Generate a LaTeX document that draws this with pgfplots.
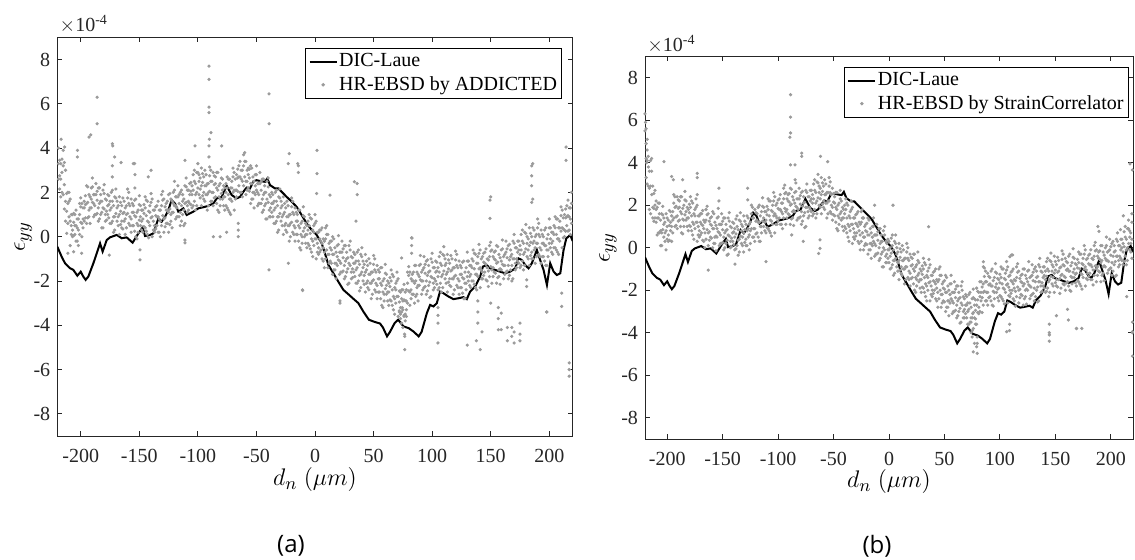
\documentclass[border=0pt]{standalone}
\usepackage{fontspec}
\setmainfont{Liberation Serif}
\newfontfamily\capfont{Open Sans}
\usepackage{pgfplots}
\usepackage{pgfplotstable}
\pgfplotsset{compat=1.18}

\definecolor{ebsd}{RGB}{155,155,155}
\definecolor{axgray}{RGB}{38,38,38}

% HR-EBSD clouds, values in 1e-4: a = ADDICTED, b = StrainCorrelator
\pgfplotstableread{
x a1 a2 a3 b1 b2 b3
-219 4.0 2.6 3.3 4.2 5.6 3.3
-217 1.8 3.3 2.6 3.8 2.9 4.3
-215 3.9 1.9 3.2 1.6 4.1 2.9
-213 1.6 3.0 0.7 2.9 1.4 1.9
-211 1.5 0.6 2.0 2.7 1.4 2.0
-209 -0.4 1.7 0.7 0.6 1.9 1.4
-207 1.0 0.0 0.3 2.1 0.7 1.6
-205 1.0 0.1 0.5 0.7 1.6 0.1
-203 -0.2 0.8 0.4 1.1 0.5 1.4
-201 1.5 0.1 1.0 -0.1 1.6 0.8
-199 0.6 1.5 0.0 1.3 0.3 0.6
-197 1.3 0.7 1.6 1.7 0.8 1.2
-195 0.6 2.3 1.5 0.7 1.7 1.3
-193 1.9 0.9 1.2 2.4 1.0 1.9
-191 2.2 1.3 1.7 1.5 2.4 0.9
-189 0.9 1.9 1.5 1.9 1.3 2.2
-187 2.4 1.0 1.9 0.7 2.4 1.6
-185 1.3 2.2 0.7 2.0 1.0 1.3
-183 1.6 1.0 1.9 2.2 1.3 1.7
-181 0.4 2.1 1.3 0.8 1.8 1.4
-179 1.7 0.7 1.0 2.4 1.0 1.9
-177 1.9 1.0 1.4 1.2 2.1 0.6
-175 0.6 1.6 1.2 1.5 0.9 1.8
-173 2.1 0.7 1.6 0.3 2.0 1.2
-171 0.9 1.8 0.3 1.5 0.5 0.8
-169 1.3 0.7 1.6 1.6 0.7 1.1
-167 0.1 1.8 1.0 0.3 1.3 0.9
-165 1.4 0.4 0.7 1.8 0.4 1.3
-163 1.6 0.7 1.1 0.7 1.6 0.1
-161 0.4 1.4 1.0 1.1 0.5 1.4
-159 2.0 0.6 1.5 0.0 1.7 0.9
-157 0.8 1.7 0.2 1.2 0.2 0.5
-155 1.1 0.5 1.4 1.4 0.5 0.9
-153 0.0 1.7 0.9 0.1 1.1 0.7
-151 1.2 0.2 0.5 1.6 0.2 1.1
-149 1.4 0.5 0.9 0.5 1.4 -0.1
-147 0.2 1.2 0.8 0.8 0.2 1.1
-145 1.8 0.4 1.3 -0.3 1.4 0.6
-143 0.7 1.6 0.1 1.0 0.0 0.3
-141 1.1 0.5 1.4 1.2 0.3 0.7
-139 0.0 1.7 0.9 -0.1 0.9 0.5
-137 1.2 0.2 0.5 1.5 0.1 1.0
-135 1.4 0.5 0.9 0.4 1.3 -0.2
-133 0.2 1.2 0.8 0.8 0.2 1.1
-131 1.9 0.5 1.4 -0.2 1.5 0.7
-129 0.8 1.7 0.2 1.1 0.1 0.4
-127 1.2 0.6 1.5 1.4 0.5 0.9
-125 0.2 1.9 1.1 0.2 1.2 0.8
-123 1.7 0.7 1.0 1.9 0.5 1.4
-121 2.0 1.1 1.5 0.9 1.8 0.3
-119 0.8 1.8 1.4 1.3 0.7 1.6
-117 2.3 0.9 1.8 0.3 2.0 1.2
-115 1.1 2.0 0.5 1.7 0.7 1.0
-113 1.6 1.0 1.9 1.9 1.0 1.4
-111 0.6 2.3 1.5 0.7 1.7 1.3
-109 2.1 1.1 1.4 2.3 0.9 1.8
-107 2.4 1.5 1.9 1.3 2.2 0.7
-105 1.3 2.3 1.9 1.7 1.1 2.0
-103 3.0 1.6 2.5 0.7 2.4 1.6
-101 2.0 2.9 1.4 2.1 1.1 1.4
-99 2.5 1.9 2.8 2.3 1.4 1.8
-97 1.4 3.1 2.3 1.1 2.1 1.7
-95 2.7 1.7 2.0 2.8 1.4 2.3
-93 2.8 1.9 2.3 1.7 2.6 1.1
-91 1.4 2.4 2.0 2.2 1.6 2.5
-89 3.0 1.6 2.5 1.1 2.8 2.0
-87 2.0 2.9 1.4 2.4 1.4 1.7
-85 2.4 1.8 2.7 2.6 1.7 2.1
-83 1.2 2.9 2.1 1.3 2.3 1.9
-81 2.4 1.4 1.7 2.8 1.4 2.3
-79 2.6 1.7 2.1 1.7 2.6 1.1
-77 1.2 2.2 1.8 2.1 1.5 2.4
-75 2.7 1.3 2.2 1.0 2.7 1.9
-73 1.7 2.6 1.1 2.4 1.4 1.7
-71 2.2 1.6 2.5 2.7 1.8 2.2
-69 1.2 2.9 2.1 1.5 2.5 2.1
-67 2.8 1.8 2.1 3.2 1.8 2.7
-65 3.2 2.3 2.7 2.2 3.1 1.6
-63 2.0 3.0 2.6 2.6 2.0 2.9
-61 3.7 2.3 3.2 1.6 3.3 2.5
-59 2.5 3.4 1.9 2.9 1.9 2.2
-57 2.8 2.2 3.1 3.0 2.1 2.5
-55 1.5 3.2 2.4 1.6 2.6 2.2
-53 2.7 1.7 2.0 3.1 1.7 2.6
-51 2.8 1.9 2.3 1.9 2.8 1.3
-49 1.4 2.4 2.0 2.1 1.5 2.4
-47 2.9 1.5 2.4 0.9 2.6 1.8
-45 1.7 2.6 1.1 2.1 1.1 1.4
-43 2.0 1.4 2.3 2.2 1.3 1.7
-41 0.8 2.5 1.7 0.8 1.8 1.4
-39 1.9 0.9 1.2 2.3 0.9 1.8
-37 2.0 1.1 1.5 1.1 2.0 0.5
-35 0.6 1.6 1.2 1.4 0.8 1.7
-33 2.1 0.7 1.6 0.2 1.9 1.1
-31 0.9 1.8 0.3 1.4 0.4 0.7
-29 1.3 0.7 1.6 1.6 0.7 1.1
-27 0.1 1.8 1.0 0.2 1.2 0.8
-25 1.3 0.3 0.6 1.7 0.3 1.2
-23 1.4 0.5 0.9 0.5 1.4 -0.1
-21 0.0 1.0 0.6 0.8 0.2 1.1
-19 1.6 0.2 1.1 -0.3 1.4 0.6
-17 0.4 1.3 -0.2 0.9 -0.1 0.2
-15 0.7 0.1 1.0 1.0 0.1 0.5
-13 -0.5 1.2 0.4 -0.4 0.6 0.2
-11 0.7 -0.3 0.0 1.1 -0.3 0.6
-9 0.9 0.0 0.4 0.0 0.9 -0.6
-7 -0.5 0.5 0.1 0.3 -0.3 0.6
-5 1.0 -0.4 0.5 -0.9 0.8 0.0
-3 -0.1 0.8 -0.7 0.3 -0.7 -0.4
-1 0.2 -0.4 0.5 0.4 -0.5 -0.1
1 -1.0 0.7 -0.1 -1.0 0.0 -0.4
3 0.2 -0.8 -0.5 0.6 -0.8 0.1
5 0.3 -0.6 -0.2 -0.6 0.3 -1.2
7 -1.1 -0.1 -0.5 -0.3 -0.9 0.0
9 0.4 -1.0 -0.1 -1.5 0.2 -0.6
11 -0.8 0.1 -1.4 -0.2 -1.2 -0.9
13 -0.5 -1.1 -0.2 -0.1 -1.0 -0.6
15 -1.7 0.0 -0.8 -1.5 -0.5 -0.9
17 -0.5 -1.5 -1.2 0.0 -1.4 -0.5
19 -0.4 -1.3 -0.9 -1.2 -0.3 -1.8
21 -1.7 -0.7 -1.1 -0.8 -1.4 -0.5
23 -0.2 -1.6 -0.7 -2.0 -0.3 -1.1
25 -1.3 -0.4 -1.9 -0.8 -1.8 -1.5
27 -1.0 -1.6 -0.7 -0.7 -1.6 -1.2
29 -2.1 -0.4 -1.2 -2.1 -1.1 -1.5
31 -0.9 -1.9 -1.6 -0.5 -1.9 -1.0
33 -0.7 -1.6 -1.2 -1.7 -0.8 -2.3
35 -2.1 -1.1 -1.5 -1.4 -2.0 -1.1
37 -0.6 -2.0 -1.1 -2.5 -0.8 -1.6
39 -1.7 -0.8 -2.3 -1.3 -2.3 -2.0
41 -1.4 -2.0 -1.1 -1.1 -2.0 -1.6
43 -2.5 -0.8 -1.6 -2.5 -1.5 -1.9
45 -1.3 -2.3 -2.0 -1.0 -2.4 -1.5
47 -1.2 -2.1 -1.7 -2.2 -1.3 -2.8
49 -2.6 -1.6 -2.0 -1.9 -2.5 -1.6
51 -1.0 -2.4 -1.5 -3.0 -1.3 -2.1
53 -2.2 -1.3 -2.8 -1.8 -2.8 -2.5
55 -1.9 -2.5 -1.6 -1.7 -2.6 -2.2
57 -3.1 -1.4 -2.2 -3.1 -2.1 -2.5
59 -1.9 -2.9 -2.6 -1.6 -3.0 -2.1
61 -1.7 -2.6 -2.2 -2.7 -1.8 -3.3
63 -3.1 -2.1 -2.5 -2.4 -3.0 -2.1
65 -1.5 -2.9 -2.0 -3.5 -1.8 -2.6
67 -2.7 -1.8 -3.3 -2.3 -3.3 -3.0
69 -2.4 -3.0 -2.1 -2.2 -3.1 -2.7
71 -3.6 -1.9 -2.7 -3.6 -2.6 -3.0
73 -2.5 -3.5 -3.2 -2.1 -3.5 -2.6
75 -2.4 -3.3 -2.9 -3.3 -2.4 -3.9
77 -3.5 -2.5 -2.9 -2.7 -3.3 -2.4
79 -1.6 -3.0 -2.1 -3.6 -1.9 -2.7
81 -2.5 -1.6 -3.1 -2.1 -3.1 -2.8
83 -2.0 -2.6 -1.7 -1.6 -2.5 -2.1
85 -3.0 -1.3 -2.1 -2.7 -1.7 -2.1
87 -1.6 -2.6 -2.3 -1.1 -2.5 -1.6
89 -1.3 -2.2 -1.8 -2.1 -1.2 -2.7
91 -2.6 -1.6 -2.0 -1.7 -2.3 -1.4
93 -0.9 -2.3 -1.4 -2.7 -1.0 -1.8
95 -2.0 -1.1 -2.6 -1.4 -2.4 -2.1
97 -1.6 -2.2 -1.3 -1.2 -2.1 -1.7
99 -2.7 -1.0 -1.8 -2.5 -1.5 -1.9
101 -1.4 -2.4 -2.1 -0.9 -2.3 -1.4
103 -1.1 -2.0 -1.6 -1.9 -1.0 -2.5
105 -2.4 -1.4 -1.8 -1.5 -2.1 -1.2
107 -0.7 -2.1 -1.2 -2.6 -0.9 -1.7
109 -1.7 -0.8 -2.3 -1.3 -2.3 -2.0
111 -1.3 -1.9 -1.0 -1.1 -2.0 -1.6
113 -2.5 -0.8 -1.6 -2.5 -1.5 -1.9
115 -1.2 -2.2 -1.9 -0.9 -2.3 -1.4
117 -1.0 -1.9 -1.5 -2.0 -1.1 -2.6
119 -2.4 -1.4 -1.8 -1.6 -2.2 -1.3
121 -0.8 -2.2 -1.3 -2.7 -1.0 -1.8
123 -2.0 -1.1 -2.6 -1.3 -2.3 -2.0
125 -1.7 -2.3 -1.4 -1.1 -2.0 -1.6
127 -2.8 -1.1 -1.9 -2.4 -1.4 -1.8
129 -1.4 -2.4 -2.1 -0.8 -2.2 -1.3
131 -1.1 -2.0 -1.6 -1.9 -1.0 -2.5
133 -2.3 -1.3 -1.7 -1.4 -2.0 -1.1
135 -0.6 -2.0 -1.1 -2.5 -0.8 -1.6
137 -1.7 -0.8 -2.3 -1.1 -2.1 -1.8
139 -1.2 -1.8 -0.9 -0.9 -1.8 -1.4
141 -2.3 -0.6 -1.4 -2.1 -1.1 -1.5
143 -0.9 -1.9 -1.6 -0.5 -1.9 -1.0
145 -0.7 -1.6 -1.2 -1.5 -0.6 -2.1
147 -2.0 -1.0 -1.4 -1.1 -1.7 -0.8
149 -0.4 -1.8 -0.9 -2.1 -0.4 -1.2
151 -1.5 -0.6 -2.1 -0.8 -1.8 -1.5
153 -1.0 -1.6 -0.7 -0.6 -1.5 -1.1
155 -2.1 -0.4 -1.2 -1.9 -0.9 -1.3
157 -0.8 -1.8 -1.5 -0.3 -1.7 -0.8
159 -0.6 -1.5 -1.1 -1.4 -0.5 -2.0
161 -1.9 -0.9 -1.3 -1.0 -1.6 -0.7
163 -0.2 -1.6 -0.7 -2.0 -0.3 -1.1
165 -1.3 -0.4 -1.9 -0.7 -1.7 -1.4
167 -0.9 -1.5 -0.6 -0.5 -1.4 -1.0
169 -1.9 -0.2 -1.0 -1.8 -0.8 -1.2
171 -0.5 -1.5 -1.2 -0.2 -1.6 -0.7
173 -0.2 -1.1 -0.7 -1.2 -0.3 -1.8
175 -1.4 -0.4 -0.8 -0.8 -1.4 -0.5
177 0.3 -1.1 -0.2 -1.8 -0.1 -0.9
179 -0.7 0.2 -1.3 -0.5 -1.5 -1.2
181 -0.3 -0.9 0.0 -0.3 -1.2 -0.8
183 -1.3 0.4 -0.4 -1.5 -0.5 -0.9
185 0.0 -1.0 -0.7 0.1 -1.3 -0.4
187 0.3 -0.6 -0.2 -1.0 -0.1 -1.6
189 -0.9 0.1 -0.3 -0.5 -1.1 -0.2
191 0.6 -0.8 0.1 -1.6 0.1 -0.7
193 -0.6 0.3 -1.2 -0.2 -1.2 -0.9
195 -0.3 -0.9 0.0 0.0 -0.9 -0.5
197 -1.3 0.4 -0.4 -1.2 -0.2 -0.6
199 0.1 -0.9 -0.6 0.4 -1.0 -0.1
201 0.4 -0.5 -0.1 -0.7 0.2 -1.3
203 -0.8 0.2 -0.2 -0.2 -0.8 0.1
205 0.9 -0.5 0.4 -1.3 0.4 -0.4
207 -0.1 0.8 -0.7 0.1 -0.9 -0.6
209 0.4 -0.2 0.7 0.4 -0.5 -0.1
211 -0.5 1.2 0.4 -0.8 0.2 -0.2
213 1.0 0.0 0.3 1.0 -0.4 0.5
215 1.4 0.5 0.9 0.0 0.9 -0.6
217 0.3 1.3 0.9 0.5 -0.1 0.8
219 2.0 0.6 1.5 -0.5 1.2 0.4
}\cloud

% second half of the clouds (even positions)
\pgfplotstableread{
x a1 a2 a3 b1 b2 b3
-218 3.45 2.75 2.15 4.1 3.0 5.1
-216 2.0 3.5 2.9 2.8 3.6 1.8
-214 2.35 1.25 3.35 3.6 2.5 4.2
-212 1.15 1.95 0.15 2.55 1.85 1.25
-210 1.6 0.9 2.0 1.2 2.2 1.8
-208 1.0 0.5 0.1 1.4 0.7 2.1
-206 0.05 1.05 0.65 0.8 1.3 0.1
-204 0.5 -0.2 1.2 1.55 0.85 1.95
-202 0.3 0.8 -0.4 1.2 0.7 0.3
-200 1.35 0.65 1.75 0.4 1.4 1.0
-198 1.3 0.8 0.4 1.05 0.35 1.75
-196 0.85 1.85 1.45 1.0 1.5 0.3
-194 1.55 0.85 2.25 2.1 1.4 2.5
-192 1.3 1.8 0.6 1.95 1.45 1.05
-190 2.25 1.55 2.65 1.25 2.25 1.85
-188 1.9 1.4 1.0 1.7 1.0 2.4
-186 1.05 2.05 1.65 1.35 1.85 0.65
-184 1.5 0.8 2.2 2.25 1.55 2.65
-182 1.1 1.6 0.4 1.9 1.4 1.0
-180 1.95 1.25 2.35 1.05 2.05 1.65
-178 1.65 1.15 0.75 1.5 0.8 2.2
-176 0.85 1.85 1.45 1.1 1.6 0.4
-174 1.3 0.6 2.0 1.9 1.2 2.3
-172 0.9 1.4 0.2 1.5 1.0 0.6
-170 1.75 1.05 2.15 0.6 1.6 1.2
-168 1.4 0.9 0.5 1.05 0.35 1.75
-166 0.55 1.55 1.15 0.7 1.2 0.0
-164 1.05 0.35 1.75 1.55 0.85 1.95
-162 0.8 1.3 0.1 1.25 0.75 0.35
-160 1.75 1.05 2.15 0.45 1.45 1.05
-158 1.4 0.9 0.5 0.9 0.2 1.6
-156 0.5 1.5 1.1 0.55 1.05 -0.15
-154 0.95 0.25 1.65 1.45 0.75 1.85
-152 0.6 1.1 -0.1 1.1 0.6 0.2
-150 1.45 0.75 1.85 0.25 1.25 0.85
-148 1.2 0.7 0.3 0.7 0.0 1.4
-146 0.45 1.45 1.05 0.35 0.85 -0.35
-144 0.95 0.25 1.65 1.25 0.55 1.65
-142 0.65 1.15 -0.05 0.95 0.45 0.05
-140 1.55 0.85 1.95 0.15 1.15 0.75
-138 1.2 0.7 0.3 0.65 -0.05 1.35
-136 0.35 1.35 0.95 0.35 0.85 -0.35
-134 0.9 0.2 1.6 1.25 0.55 1.65
-132 0.7 1.2 0.0 1.0 0.5 0.1
-130 1.65 0.95 2.05 0.25 1.25 0.85
-128 1.35 0.85 0.45 0.8 0.1 1.5
-126 0.6 1.6 1.2 0.6 1.1 -0.1
-124 1.25 0.55 1.95 1.6 0.9 2.0
-122 1.1 1.6 0.4 1.4 0.9 0.5
-120 2.1 1.4 2.5 0.65 1.65 1.25
-118 1.8 1.3 0.9 1.2 0.5 1.9
-116 0.9 1.9 1.5 1.0 1.5 0.3
-114 1.4 0.7 2.1 1.95 1.25 2.35
-112 1.2 1.7 0.5 1.7 1.2 0.8
-110 2.25 1.55 2.65 0.95 1.95 1.55
-108 2.1 1.6 1.2 1.5 0.8 2.2
-106 1.45 2.45 2.05 1.25 1.75 0.55
-104 2.1 1.4 2.8 2.2 1.5 2.6
-102 1.9 2.4 1.2 2.0 1.5 1.1
-100 2.9 2.2 3.3 1.25 2.25 1.85
-98 2.65 2.15 1.75 1.8 1.1 2.5
-96 1.85 2.85 2.45 1.6 2.1 0.9
-94 2.3 1.6 3.0 2.55 1.85 2.95
-92 1.9 2.4 1.2 2.3 1.8 1.4
-90 2.75 2.05 3.15 1.55 2.55 2.15
-88 2.5 2.0 1.6 2.05 1.35 2.75
-86 1.75 2.75 2.35 1.75 2.25 1.05
-84 2.2 1.5 2.9 2.65 1.95 3.05
-82 1.8 2.3 1.1 2.3 1.8 1.4
-80 2.65 1.95 3.05 1.45 2.45 2.05
-78 2.3 1.8 1.4 1.95 1.25 2.65
-76 1.4 2.4 2.0 1.65 2.15 0.95
-74 1.9 1.2 2.6 2.6 1.9 3.0
-72 1.7 2.2 1.0 2.4 1.9 1.5
-70 2.7 2.0 3.1 1.7 2.7 2.3
-68 2.6 2.1 1.7 2.3 1.6 3.0
-66 2.05 3.05 2.65 2.1 2.6 1.4
-64 2.7 2.0 3.4 3.05 2.35 3.45
-62 2.5 3.0 1.8 2.8 2.3 1.9
-60 3.4 2.7 3.8 2.05 3.05 2.65
-58 3.0 2.5 2.1 2.5 1.8 3.2
-56 2.05 3.05 2.65 2.1 2.6 1.4
-54 2.4 1.7 3.1 2.9 2.2 3.3
-52 2.0 2.5 1.3 2.5 2.0 1.6
-50 2.8 2.1 3.2 1.55 2.55 2.15
-48 2.4 1.9 1.5 1.9 1.2 2.6
-46 1.5 2.5 2.1 1.5 2.0 0.8
-44 1.9 1.2 2.6 2.3 1.6 2.7
-42 1.5 2.0 0.8 1.9 1.4 1.0
-40 2.25 1.55 2.65 1.0 2.0 1.6
-38 1.8 1.3 0.9 1.4 0.7 2.1
-36 0.9 1.9 1.5 1.0 1.5 0.3
-34 1.3 0.6 2.0 1.8 1.1 2.2
-32 0.9 1.4 0.2 1.4 0.9 0.5
-30 1.75 1.05 2.15 0.55 1.55 1.15
-28 1.4 0.9 0.5 1.0 0.3 1.7
-26 0.5 1.5 1.1 0.6 1.1 -0.1
-24 0.9 0.2 1.6 1.4 0.7 1.8
-22 0.5 1.0 -0.2 1.0 0.5 0.1
-20 1.35 0.65 1.75 0.15 1.15 0.75
-18 1.0 0.5 0.1 0.6 -0.1 1.3
-16 0.1 1.1 0.7 0.2 0.7 -0.5
-14 0.5 -0.2 1.2 1.0 0.3 1.4
-12 0.1 0.6 -0.6 0.6 0.1 -0.3
-10 0.95 0.25 1.35 -0.25 0.75 0.35
-8 0.6 0.1 -0.3 0.2 -0.5 0.9
-6 -0.3 0.7 0.3 -0.2 0.3 -0.9
-4 0.15 -0.55 0.85 0.6 -0.1 1.0
-2 -0.2 0.3 -0.9 0.2 -0.3 -0.7
0 0.6 -0.1 1.0 -0.7 0.3 -0.1
2 0.2 -0.3 -0.7 -0.25 -0.95 0.45
4 -0.7 0.3 -0.1 -0.6 -0.1 -1.3
6 -0.3 -1.0 0.4 0.2 -0.5 0.6
8 -0.7 -0.2 -1.4 -0.2 -0.7 -1.1
10 0.1 -0.6 0.5 -1.05 -0.05 -0.45
12 -0.3 -0.8 -1.2 -0.6 -1.3 0.1
14 -1.2 -0.2 -0.6 -1.0 -0.5 -1.7
16 -0.8 -1.5 -0.1 -0.2 -0.9 0.2
18 -1.2 -0.7 -1.9 -0.6 -1.1 -1.5
20 -0.35 -1.05 0.05 -1.45 -0.45 -0.85
22 -0.7 -1.2 -1.6 -1.0 -1.7 -0.3
24 -1.55 -0.55 -0.95 -1.4 -0.9 -2.1
26 -1.1 -1.8 -0.4 -0.6 -1.3 -0.2
28 -1.45 -0.95 -2.15 -1.0 -1.5 -1.9
30 -0.6 -1.3 -0.2 -1.85 -0.85 -1.25
32 -0.95 -1.45 -1.85 -1.4 -2.1 -0.7
34 -1.8 -0.8 -1.2 -1.8 -1.3 -2.5
36 -1.4 -2.1 -0.7 -0.95 -1.65 -0.55
38 -1.75 -1.25 -2.45 -1.3 -1.8 -2.2
40 -0.9 -1.6 -0.5 -2.15 -1.15 -1.55
42 -1.25 -1.75 -2.15 -1.7 -2.4 -1.0
44 -2.1 -1.1 -1.5 -2.1 -1.6 -2.8
46 -1.7 -2.4 -1.0 -1.3 -2.0 -0.9
48 -2.1 -1.6 -2.8 -1.7 -2.2 -2.6
50 -1.25 -1.95 -0.85 -2.55 -1.55 -1.95
52 -1.6 -2.1 -2.5 -2.1 -2.8 -1.4
54 -2.5 -1.5 -1.9 -2.5 -2.0 -3.2
56 -2.1 -2.8 -1.4 -1.7 -2.4 -1.3
58 -2.5 -2.0 -3.2 -2.1 -2.6 -3.0
60 -1.65 -2.35 -1.25 -2.95 -1.95 -2.35
62 -2.0 -2.5 -2.9 -2.5 -3.2 -1.8
64 -2.85 -1.85 -2.25 -2.85 -2.35 -3.55
66 -2.4 -3.1 -1.7 -2.0 -2.7 -1.6
68 -2.8 -2.3 -3.5 -2.4 -2.9 -3.3
70 -2.0 -2.7 -1.6 -3.3 -2.3 -2.7
72 -2.45 -2.95 -3.35 -2.9 -3.6 -2.2
74 -3.4 -2.4 -2.8 -3.3 -2.8 -4.0
76 -2.85 -3.55 -2.15 -2.35 -3.05 -1.95
78 -2.9 -2.4 -3.6 -2.45 -2.95 -3.35
80 -1.75 -2.45 -1.35 -3.05 -2.05 -2.45
82 -1.9 -2.4 -2.8 -2.3 -3.0 -1.6
84 -2.6 -1.6 -2.0 -2.35 -1.85 -3.05
86 -2.0 -2.7 -1.3 -1.35 -2.05 -0.95
88 -2.2 -1.7 -2.9 -1.6 -2.1 -2.5
90 -1.25 -1.95 -0.85 -2.35 -1.35 -1.75
92 -1.5 -2.0 -2.4 -1.8 -2.5 -1.1
94 -2.25 -1.25 -1.65 -2.05 -1.55 -2.75
96 -1.75 -2.45 -1.05 -1.15 -1.85 -0.75
98 -2.05 -1.55 -2.75 -1.45 -1.95 -2.35
100 -1.15 -1.85 -0.75 -2.25 -1.25 -1.65
102 -1.4 -1.9 -2.3 -1.7 -2.4 -1.0
104 -2.15 -1.15 -1.55 -1.95 -1.45 -2.65
106 -1.6 -2.3 -0.9 -1.05 -1.75 -0.65
108 -1.8 -1.3 -2.5 -1.35 -1.85 -2.25
110 -0.85 -1.55 -0.45 -2.15 -1.15 -1.55
112 -1.2 -1.7 -2.1 -1.7 -2.4 -1.0
114 -2.05 -1.05 -1.45 -2.05 -1.55 -2.75
116 -1.55 -2.25 -0.85 -1.15 -1.85 -0.75
118 -1.9 -1.4 -2.6 -1.45 -1.95 -2.35
120 -1.05 -1.75 -0.65 -2.25 -1.25 -1.65
122 -1.4 -1.9 -2.3 -1.7 -2.4 -1.0
124 -2.3 -1.3 -1.7 -1.95 -1.45 -2.65
126 -1.85 -2.55 -1.15 -1.05 -1.75 -0.65
128 -2.1 -1.6 -2.8 -1.35 -1.85 -2.25
130 -1.1 -1.8 -0.7 -2.15 -1.15 -1.55
132 -1.3 -1.8 -2.2 -1.6 -2.3 -0.9
134 -2.0 -1.0 -1.4 -1.85 -1.35 -2.55
136 -1.45 -2.15 -0.75 -0.9 -1.6 -0.5
138 -1.7 -1.2 -2.4 -1.15 -1.65 -2.05
140 -0.75 -1.45 -0.35 -1.9 -0.9 -1.3
142 -1.0 -1.5 -1.9 -1.35 -2.05 -0.65
144 -1.75 -0.75 -1.15 -1.6 -1.1 -2.3
146 -1.25 -1.95 -0.55 -0.65 -1.35 -0.25
148 -1.55 -1.05 -2.25 -0.9 -1.4 -1.8
150 -0.65 -1.35 -0.25 -1.65 -0.65 -1.05
152 -0.9 -1.4 -1.8 -1.15 -1.85 -0.45
154 -1.65 -0.65 -1.05 -1.45 -0.95 -2.15
156 -1.15 -1.85 -0.45 -0.55 -1.25 -0.15
158 -1.45 -0.95 -2.15 -0.85 -1.35 -1.75
160 -0.55 -1.25 -0.15 -1.65 -0.65 -1.05
162 -0.8 -1.3 -1.7 -1.1 -1.8 -0.4
164 -1.55 -0.55 -0.95 -1.35 -0.85 -2.05
166 -1.05 -1.75 -0.35 -0.45 -1.15 -0.05
168 -1.3 -0.8 -2.0 -0.75 -1.25 -1.65
170 -0.3 -1.0 0.1 -1.55 -0.55 -0.95
172 -0.5 -1.0 -1.4 -1.0 -1.7 -0.3
174 -1.2 -0.2 -0.6 -1.25 -0.75 -1.95
176 -0.6 -1.3 0.1 -0.3 -1.0 0.1
178 -0.8 -0.3 -1.5 -0.55 -1.05 -1.45
180 0.15 -0.55 0.55 -1.35 -0.35 -0.75
182 -0.1 -0.6 -1.0 -0.8 -1.5 -0.1
184 -0.85 0.15 -0.25 -1.05 -0.55 -1.75
186 -0.3 -1.0 0.4 -0.15 -0.85 0.25
188 -0.5 0.0 -1.2 -0.4 -0.9 -1.3
190 0.4 -0.3 0.8 -1.15 -0.15 -0.55
192 0.0 -0.5 -0.9 -0.6 -1.3 0.1
194 -0.9 0.1 -0.3 -0.85 -0.35 -1.55
196 -0.4 -1.1 0.3 0.1 -0.6 0.5
198 -0.6 -0.1 -1.3 -0.15 -0.65 -1.05
200 0.4 -0.3 0.8 -0.95 0.05 -0.35
202 0.2 -0.3 -0.7 -0.4 -1.1 0.3
204 -0.5 0.5 0.1 -0.65 -0.15 -1.35
206 0.1 -0.6 0.8 0.3 -0.4 0.7
208 -0.1 0.4 -0.8 0.1 -0.4 -0.8
210 0.95 0.25 1.35 -0.6 0.4 0.0
212 0.85 0.35 -0.05 0.05 -0.65 0.75
214 0.25 1.25 0.85 -0.1 0.4 -0.8
216 0.95 0.25 1.65 0.9 0.2 1.3
218 0.8 1.3 0.1 0.7 0.2 -0.2
}\cloudeven

% DIC-Laue profile (same in both panels)
\pgfplotstableread{
x y
-220 -0.45
-216.3 -0.9
-213.4 -1.2
-209.2 -1.42
-206.3 -1.5
-202.9 -1.76
-200 -1.58
-197.8 -1.8
-195.8 -1.95
-193.5 -1.8
-189.2 -1.2
-183.5 -0.3
-181.3 -0.67
-177.8 -0.15
-175 -0.03
-169.3 0.08
-165 -0.07
-160.8 -0.03
-155.7 -0.27
-150.8 0.15
-147.1 0.42
-145.1 0.03
-140.9 0.08
-138 0.15
-133.7 0.83
-130.9 0.68
-128 0.9
-125.2 1.2
-122.4 1.65
-119.5 1.5
-116.7 1.13
-112.4 1.28
-109.5 0.98
-103.9 1.13
-99.6 1.28
-95.4 1.33
-91.1 1.39
-86.8 1.5
-83.9 1.73
-79.7 1.8
-75.4 2.3
-71.1 1.88
-66.9 1.73
-64 1.8
-61.2 2.03
-58.3 2.22
-55.5 2.18
-52.6 2.5
-49.8 2.55
-45.5 2.5
-42.7 2.48
-40.7 2.63
-38.4 2.33
-34.1 2.18
-31.3 2.18
-28.5 2.03
-24.2 1.8
-19.9 1.58
-15.7 1.35
-11.4 0.98
-7.1 0.6
-2.8 0.3
1.4 0.08
5.7 -0.3
8.5 -0.75
11.4 -1.27
15.7 -1.65
19.9 -2.03
24.2 -2.4
28.5 -2.6
32.7 -2.8
37 -3.0
41.5 -3.4
46 -3.75
51 -3.85
55.5 -3.92
58 -4.1
61.5 -4.5
64 -4.3
68 -3.9
71 -3.75
75.5 -4.05
80 -4.13
84 -4.28
88.5 -4.5
91 -4.3
95.5 -3.45
98.3 -3.08
101.1 -3.15
104 -3.0
106.7 -2.48
109.6 -2.55
113.9 -2.7
118.2 -2.82
122.4 -2.78
126.7 -2.73
129.6 -2.82
132.4 -2.48
136.7 -2.25
141 -1.8
143.3 -1.35
146.7 -1.28
149.5 -1.43
153.8 -1.5
158 -1.58
162.3 -1.65
166.6 -1.58
170.9 -1.43
173.7 -0.98
176.6 -1.05
179.4 -1.28
182.3 -1.43
185.1 -1.2
189.4 -0.6
192.2 -1.05
195.1 -1.5
198 -2.18
200.8 -1.2
203.7 -1.58
206.5 -1.73
209.4 -1.65
212.2 -0.6
214.5 -0.08
217.9 0.08
220 -0.2
}\laue

\pgfplotsset{
  strainaxis/.style={
    scale only axis,
    anchor=south west,
    xmin=-220, xmax=220, ymin=-9, ymax=9,
    enlargelimits=false,
    xtick={-200,-150,...,200},
    xticklabels={-200,-150,-100,-50,0,50,100,150,200},
    ytick={-8,-6,...,8},
    yticklabels={-8,-6,-4,-2,0,2,4,6,8},
    tick align=inside,
    major tick length=2.5pt,
    axis line style={axgray, line width=0.45pt},
    every tick/.style={axgray, line width=0.45pt},
    ticklabel style={font=\fontsize{10}{12}\selectfont, text=axgray},
    xticklabel style={yshift=-3.3pt},
    xlabel={$d_n\ (\mu m)$},
    ylabel={$\epsilon_{yy}$},
    label style={font=\fontsize{12.5}{15}\selectfont},
    xlabel style={at={(axis description cs:0.5,0)}, anchor=center, yshift=-22pt},
    legend cell align=left,
    legend style={at={(1,1)}, anchor=north east, draw=black, line width=0.5pt,
      fill=white, font=\fontsize{10}{12}\selectfont,
      inner xsep=1.5pt, inner ysep=1pt,
      nodes={inner xsep=0.8pt, inner ysep=1.6pt}},
  },
  lauestyle/.style={black, line width=1pt, no marks,
    legend image code/.code={\draw[black, line width=1pt] (0pt,0pt) -- (13.5pt,0pt);}},
  ebsdstyle/.style={ebsd, only marks, mark=*, mark size=0.6pt,
    mark options={draw=none, fill=ebsd},
    legend image code/.code={\fill[ebsd] (6.75pt,0pt) circle (0.6pt);}},
}

\begin{document}
\begin{tikzpicture}
\useasboundingbox (0,0) rectangle (567.5pt,280pt);

% (a) ADDICTED
\begin{axis}[strainaxis, name=pa,
    at={(28.65pt,62pt)}, width=257.7pt, height=199.3pt,
    ylabel style={at={(axis description cs:-0.066,0.5)}, anchor=center},
    legend style={xshift=-5.3pt, yshift=-5.3pt}]
\addplot[lauestyle] table[x=x, y=y] {\laue};
\addlegendentry{DIC-Laue}
\addplot[ebsdstyle] table[x=x, y=a1] {\cloud};
\addlegendentry{HR-EBSD by ADDICTED}
\addplot[ebsdstyle, forget plot] table[x=x, y=a2] {\cloud};
\addplot[ebsdstyle, forget plot] table[x=x, y=a3] {\cloud};
\addplot[ebsdstyle, forget plot] table[x=x, y=a1] {\cloudeven};
\addplot[ebsdstyle, forget plot] table[x=x, y=a2] {\cloudeven};
\addplot[ebsdstyle, forget plot] table[x=x, y=a3] {\cloudeven};
\addplot[ebsdstyle, forget plot] coordinates {
(72,-3.4) (73,-3.7) (74,-3.9) (75,-4.1) (76,-3.6) (77,-3.8) (78,-3.3) (74.5,-3.2) (76.5,-4.4)
(-211,-0.75) (-206,-0.68) (-199.2,-0.75)
(-216.8,4.4) (-213.7,4.05) (-202.8,3.9) (-202.8,3.6) (-192.9,4.5) (-191.4,4.6) (-186,6.3) (-186,5.1)
(-172.7,4.1) (-171,3.6) (-154,3.3) (-140,3.0) (-90.5,7.7) (-90.5,7.1) (-90.5,5.85) (-90.5,5.6)
(-88.8,4.7) (-90.5,4.1) (-90.5,3.6) (-39.2,6.45) (-39.2,5.1) (-22,3.75) (-14.8,3.3) (1.7,3.9)
(1.7,2.85) (1.4,1.95) (36,2.4) (36,1.9) (35,0.7) (82.8,-0.06) (185.9,3.3) (185.9,1.7)
(214.3,4.05) (214.3,3.45) (150,1.8) (-173,4.2) (-173,3.2) (-173,2.7) (-165.6,3.35) (-155.1,3.3)
(-153.7,2.8) (-153.7,2.2) (-142.3,2.7) (-149.4,-1.05) (-149.4,-0.6) (-175.6,-0.83) (-111,-0.15)
(-111,-0.28) (-86.8,0.0) (-81,0.0) (-79.7,4.1) (-102.4,4.1) (-90.2,4.4) (-111,3.45) (-22.8,3.3)
(-14.2,3.2) (-14.2,2.9) (33.6,2.48) (12.8,1.88) (-39.3,-1.5) (-22.8,-1.2) (-10.5,-2.43)
(-65.5,0.3) (-65.5,0.0) (-65.5,0.6) (-75.4,0.2)
(-10.7,-2.4) (21.3,-2.9) (21.3,-3.0) (76.6,-5.1) (76.6,-4.5) (105,-4.8) (105,-3.9) (130,-4.9)
(137.7,-4.7) (141,-5.1) (142.6,-4.3) (150,-3.0) (159,-3.45) (159,-4.2) (168,-4.1) (168,-4.5)
(175,-4.4) (175,-4.7) (175,-3.9) (198,-3.4) (217,-5.7) (217,-6.0) (217,-6.3) (217,-4.0)
(139,-2.9) (139,-3.4) (139,-3.9) (156.5,-4.2) (164.2,-4.1) (164.2,-4.7) (170,-4.3) (170,-4.8)
(156.5,-3.2) (156.5,-3.7) (149.4,1.65) (149.4,0.83) (185,3.2) (185,2.75) (185,2.3) (185,1.55)
(210.6,-3.15) (210.6,-2.55) (197.8,-3.4) (180.7,-1.95) (180.7,-2.25) (82.5,-0.05) (82.5,-0.4)
(82.5,-0.75) (73.9,-0.96) (105,-3.2) (105,-3.55)
};
\end{axis}
\node[anchor=base west, inner sep=0pt, font=\fontsize{10}{12}\selectfont, text=axgray]
  at ([xshift=1pt, yshift=3pt]pa.north west) {$\times$10\textsuperscript{-4}};

% (b) StrainCorrelator
\begin{axis}[strainaxis, name=pb,
    at={(322.5pt,60.5pt)}, width=244pt, height=191.25pt,
    ylabel style={at={(axis description cs:-0.076,0.5)}, anchor=center},
    xlabel style={yshift=0.7pt},
    legend style={xshift=-2.2pt, yshift=-5.2pt}]
\addplot[lauestyle] table[x=x, y=y] {\laue};
\addlegendentry{DIC-Laue}
\addplot[ebsdstyle] table[x=x, y=b1] {\cloud};
\addlegendentry{HR-EBSD by StrainCorrelator}
\addplot[ebsdstyle, forget plot] table[x=x, y=b2] {\cloud};
\addplot[ebsdstyle, forget plot] table[x=x, y=b3] {\cloud};
\addplot[ebsdstyle, forget plot] table[x=x, y=b1] {\cloudeven};
\addplot[ebsdstyle, forget plot] table[x=x, y=b2] {\cloudeven};
\addplot[ebsdstyle, forget plot] table[x=x, y=b3] {\cloudeven};
\addplot[ebsdstyle, forget plot] coordinates {
(74,-3.5) (75,-4.2) (76,-3.8) (77,-4.5) (78,-3.6) (76,-4.9) (75.5,-3.1)
(-220,6.3) (-220,5.5) (-219,4.9) (-218,4.6) (-219.5,5.9) (-218.5,4.0) (-202.9,4.05) (-196,3.35)
(-194.5,3.2) (-186,3.2) (-172.9,3.5) (-172.9,3.3) (-172.9,2.5) (-153.3,2.8) (-153.3,2.2)
(-127.4,2.8) (-127.4,2.25) (-138.9,-0.77) (-163,-1.05) (-110.9,-0.65) (-88.8,7.2) (-88.8,6.15)
(-88.8,5.4) (-88.8,3.9) (-89.3,5.2) (-78.7,4.45) (-78.7,4.3) (-84.7,3.9) (-84.7,3.2) (-62.2,-0.03)
(-62.2,0.37) (-77.3,0.3) (-87.7,0.6) (-61.8,4.3) (-55.3,4.05) (-63.5,-0.27) (-13,2.0) (3.6,2.0)
(35.7,0.99) (110.4,-0.34) (188.4,1.0) (219,1.6) (208.7,0.85) (219.5,3.66) (217.3,3.95)
(189.3,0.77) (109,-0.42) (111.5,-0.34) (85.1,-0.66) (85.1,-0.9) (211.3,1.5)
(79.5,-4.97) (79.5,-4.5) (79.5,-4.2) (108.7,-3.9) (108.7,-3.6) (144.5,-4.4) (144.5,-4.0)
(144.5,-3.6) (168.9,-3.8) (173.8,-3.8) (219.5,-3.5) (219.5,-5.1) (219.5,-4.0) (151,-3.2)
(161,-2.9) (79,-4.66) (106.1,-3.95) (144.6,-4.1) (161.7,-3.4) (169.2,-3.8) (214.3,-2.3) (219.5,-3.95)
};
\end{axis}
\node[anchor=base west, inner sep=0pt, font=\fontsize{10}{12}\selectfont, text=axgray]
  at ([xshift=1pt, yshift=2.4pt]pb.north west) {$\times$10\textsuperscript{-4}};

% sub-captions
\node[font=\capfont\fontsize{12}{14}\selectfont] at (145.5pt,7pt) {(a)};
\node[font=\capfont\fontsize{12}{14}\selectfont] at (438.5pt,7pt) {(b)};
\end{tikzpicture}
\end{document}
